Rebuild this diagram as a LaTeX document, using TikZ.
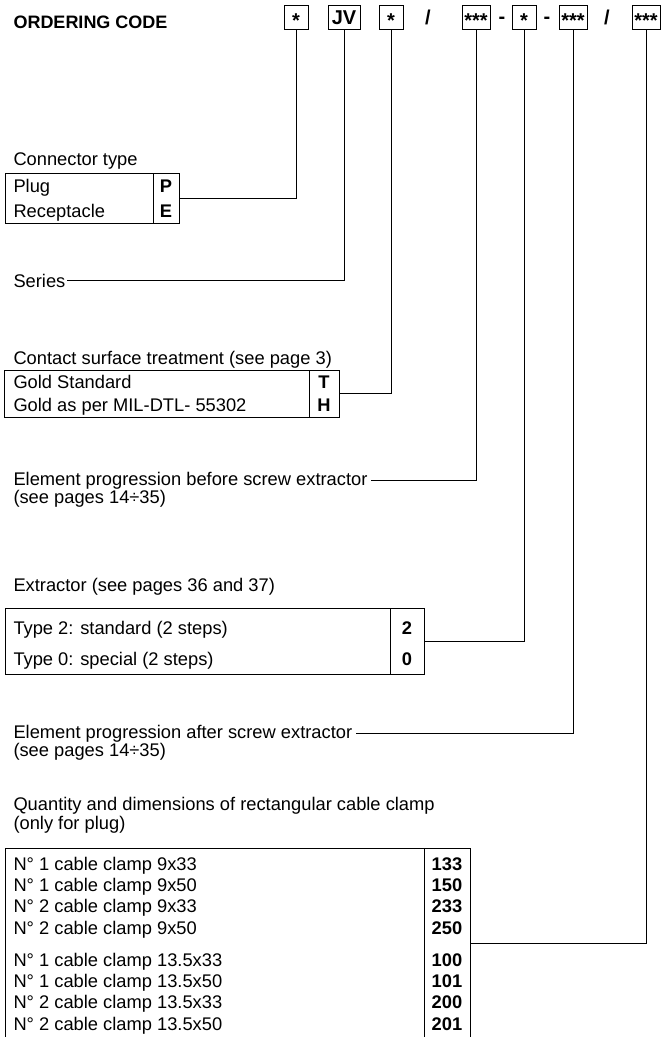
\documentclass[tikz,border=0pt]{standalone}
\usepackage{fontspec}
\setmainfont{Liberation Sans}
\begin{document}
\begin{tikzpicture}[x=1pt,y=-1pt,line width=1pt,
  txt/.style={anchor=base west,inner sep=0pt,font=\fontsize{18.3}{21}\selectfont},
  bold/.style={anchor=base,inner sep=0pt,font=\fontsize{18.3}{21}\selectfont\bfseries},
  star/.style={anchor=base,inner sep=0pt,font=\fontsize{20}{22}\selectfont\bfseries},
  cbox/.style={draw,inner sep=0pt,outer sep=0pt,minimum height=24pt},
  frame/.style={draw,inner sep=0pt,outer sep=0pt,anchor=north west},
  conn/.style={line width=1pt}]
\useasboundingbox (0,0) rectangle (672,1037);

% title
\node[txt,font=\fontsize{18}{21}\selectfont\bfseries] (title) at (13,28) {ORDERING CODE};

% code boxes
\node[cbox,minimum width=24pt] (c1) at (296,17) {};
\node[cbox,minimum width=32pt] (c2) at (344,17) {};
\node[cbox,minimum width=24pt] (c3) at (391,17) {};
\node[cbox,minimum width=28pt] (c4) at (476,17) {};
\node[cbox,minimum width=24pt] (c5) at (524,17) {};
\node[cbox,minimum width=28pt] (c6) at (573,17) {};
\node[cbox,minimum width=28pt] (c7) at (646,17) {};
\node[star] (s1) at (296,27) {*};
\node[star] (s2) at (344,24) {JV};
\node[star] (s3) at (391,27) {*};
\node[star] (s4) at (476,27) {***};
\node[star] (s5) at (524,27) {*};
\node[star] (s6) at (573,27) {***};
\node[star] (s7) at (646,27) {***};
\node[star] (sl1) at (428,24) {/};
\node[star] (d1) at (502,23) {-};
\node[star] (d2) at (547,23) {-};
\node[star] (sl2) at (607,24) {/};

% connector type
\node[txt] (ctt) at (13,165) {Connector type};
\node[frame,minimum width=148pt,minimum height=50pt] (ctL) at (5,173) {};
\node[frame,minimum width=26pt,minimum height=50pt] (ctR) at (153,173) {};
\node[txt] (plug) at (13,192) {Plug};
\node[txt] (rec) at (13,217) {Receptacle};
\node[bold] (P) at (166,192) {P};
\node[bold] (E) at (166,217) {E};
\draw[conn] (c1.south) |- (ctR.east);

% series
\node[txt] (ser) at (13,287) {Series};
\coordinate (serc) at (67,280);
\draw[conn] (c2.south) |- (serc);

% contact surface treatment
\node[txt] (cst) at (13,364) {Contact surface treatment (see page 3)};
\node[frame,minimum width=305pt,minimum height=47pt] (tL) at (4,370) {};
\node[frame,minimum width=30pt,minimum height=47pt] (tR) at (309,370) {};
\node[txt] (gs) at (13,388) {Gold Standard};
\node[txt] (gm) at (13,411) {Gold as per MIL-DTL- 55302};
\node[bold] (T) at (324,388) {T};
\node[bold] (H) at (324,411) {H};
\draw[conn] (c3.south) |- (tR.east);

% element progression before
\node[txt] (eb1) at (13,485.5) {Element progression before screw extractor};
\node[txt] (eb2) at (13,503) {(see pages 14÷35)};
\coordinate (ebc) at (371,480);
\draw[conn] (c4.south) |- (ebc);

% extractor
\node[txt] (ext) at (13,591) {Extractor (see pages 36 and 37)};
\node[frame,minimum width=385pt,minimum height=66pt] (eL) at (5,608) {};
\node[frame,minimum width=34pt,minimum height=66pt] (eR) at (390,608) {};
\node[txt] (ty2) at (13,634) {Type 2: standard (2 steps)};
\node[txt] (ty0) at (13,665) {Type 0: special (2 steps)};
\node[bold] (k2) at (407,634) {2};
\node[bold] (k0) at (407,665) {0};
\draw[conn] (c5.south) |- (eR.east);

% element progression after
\node[txt] (ea1) at (13,738.5) {Element progression after screw extractor};
\node[txt] (ea2) at (13,756) {(see pages 14÷35)};
\coordinate (eac) at (356,733);
\draw[conn] (c6.south) |- (eac);

% cable clamp
\node[txt] (q1) at (13,810) {Quantity and dimensions of rectangular cable clamp};
\node[txt] (q2) at (13,829) {(only for plug)};
\draw (5,1040) |- (470,848) -- (470,1040);
\draw (424,848) -- (424,1040);
\node[txt] (r1) at (13,870) {N° 1 cable clamp 9x33};
\node[txt] (r2) at (13,891.3) {N° 1 cable clamp 9x50};
\node[txt] (r3) at (13,912.6) {N° 2 cable clamp 9x33};
\node[txt] (r4) at (13,934) {N° 2 cable clamp 9x50};
\node[txt] (r5) at (13,966) {N° 1 cable clamp 13.5x33};
\node[txt] (r6) at (13,987.3) {N° 1 cable clamp 13.5x50};
\node[txt] (r7) at (13,1008.6) {N° 2 cable clamp 13.5x33};
\node[txt] (r8) at (13,1030) {N° 2 cable clamp 13.5x50};
\node[bold] (n1) at (447,870) {133};
\node[bold] (n2) at (447,891.3) {150};
\node[bold] (n3) at (447,912.6) {233};
\node[bold] (n4) at (447,934) {250};
\node[bold] (n5) at (447,966) {100};
\node[bold] (n6) at (447,987.3) {101};
\node[bold] (n7) at (447,1008.6) {200};
\node[bold] (n8) at (447,1030) {201};
\coordinate (qc) at (470,943);
\draw[conn] (c7.south) |- (qc);
\end{tikzpicture}
\end{document}
